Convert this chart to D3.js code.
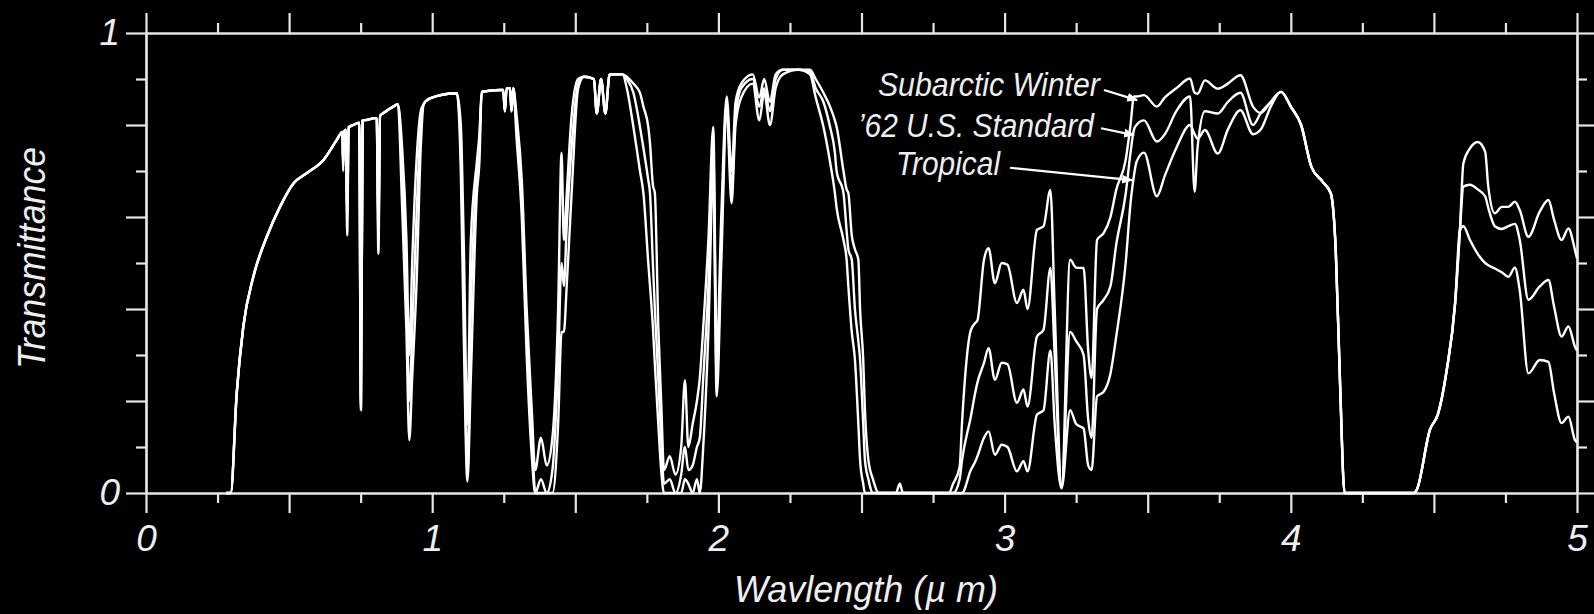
<!DOCTYPE html>
<html>
<head>
<meta charset="utf-8">
<script src="https://cdn.jsdelivr.net/npm/d3@7/dist/d3.min.js"></script>
<style>
  html, body { margin: 0; padding: 0; background: #000; }
  svg { display: block; }
</style>
</head>
<body>
<svg id="chart" width="1594" height="614"></svg>
<script>
// ---------------- DATA ----------------
const wavelength = [
  0.28, 0.296, 0.317, 0.34, 0.375, 0.422, 0.468, 0.515, 0.561, 0.62, 0.666, 0.686, 0.689, 0.692, 0.698, 0.703, 0.708, 0.724, 0.745, 0.751,
  0.757, 0.771, 0.80, 0.806, 0.812, 0.818, 0.83, 0.864, 0.88, 0.895, 0.91, 0.92, 0.93, 0.945, 0.96, 0.97, 0.992, 1.086, 1.10, 1.11,
  1.123, 1.135, 1.156, 1.165, 1.173, 1.237, 1.248, 1.254, 1.26, 1.272, 1.277, 1.283, 1.295, 1.313, 1.33, 1.348, 1.36, 1.38, 1.40, 1.42,
  1.44, 1.452, 1.46, 1.47, 1.487, 1.51, 1.53, 1.565, 1.575, 1.59, 1.605, 1.62, 1.665, 1.68, 1.703, 1.726, 1.738, 1.755, 1.761, 1.771,
  1.778, 1.79, 1.80, 1.81, 1.83, 1.85, 1.87, 1.883, 1.895, 1.91, 1.925, 1.935, 1.947, 1.965, 1.982, 1.994, 2.01, 2.029, 2.046, 2.06,
  2.08, 2.12, 2.143, 2.16, 2.18, 2.20, 2.225, 2.28, 2.32, 2.34, 2.367, 2.39, 2.407, 2.413, 2.437, 2.448, 2.454, 2.466, 2.477, 2.489,
  2.495, 2.506, 2.512, 2.524, 2.54, 2.56, 2.62, 2.634, 2.645, 2.805, 2.82, 2.843, 2.851, 2.882, 2.898, 2.905, 2.928, 2.944, 2.966, 2.99,
  3.01, 3.043, 3.066, 3.08, 3.113, 3.136, 3.16, 3.175, 3.199, 3.229, 3.25, 3.276, 3.292, 3.304, 3.323, 3.346, 3.37, 3.39, 3.423, 3.44,
  3.452, 3.461, 3.487, 3.532, 3.56, 3.60, 3.648, 3.664, 3.674, 3.70, 3.745, 3.78, 3.824, 3.868, 3.895, 3.93, 3.966, 4.00, 4.036, 4.072,
  4.111, 4.14, 4.157, 4.172, 4.188, 4.43, 4.44, 4.486, 4.515, 4.545, 4.574, 4.591, 4.603, 4.626, 4.653, 4.679, 4.69, 4.713, 4.737, 4.76,
  4.783, 4.80, 4.83, 4.87, 4.90, 4.92, 4.946, 4.97, 4.993, 5.0
];

const subarcticWinter = [
  0, 0, .217, .362, .47, .557, .622, .673, .695, .724, .767, .785, .72, .785, .79, .62, .795, .80, .805, .19,
  .81, .811, .815, .815, .60, .82, .826, .84, .845, .75, .55, .30, .50, .72, .83, .845, .858, .869, .80, .55,
  .15, .55, .72, .78, .872, .876, .876, .83, .88, .88, .83, .88, .82, .68, .40, .18, .05, .12, .06, .12,
  .40, .74, .55, .65, .82, .90, .905, .90, .825, .90, .825, .91, .91, .905, .89, .87, .84, .796, .76, .67,
  .652, .362, .20, .05, .08, .04, .10, .245, .10, .15, .20, .25, .36, .55, .796, .30, .60, .862, .70, .85,
  .89, .91, .86, .90, .85, .91, .92, .92, .92, .90, .87, .84, .81, .796, .70, .66, .652, .56, .53, .507,
  .40, .29, .18, .072, .03, 0, 0, .02, 0, 0, .02, .057, .15, .354, .37, .375, .507, .532, .456, .50,
  .496, .413, .442, .40, .572, .58, .659, .40, .014, .507, .49, .489, .31, .25, .55, .565, .60, .659, .724, .80,
  .862, .862, .865, .84, .86, .88, .901, .87, .868, .897, .879, .89, .908, .84, .826, .85, .872, .84, .80, .709,
  .677, .651, .528, .24, 0, 0, .007, .137, .173, .268, .412, .572, .717, .749, .763, .742, .666, .608, .622, .622,
  .633, .615, .557, .612, .637, .594, .55, .575, .528, .51
];

const usStandard62 = [
  0, 0, .217, .362, .47, .557, .622, .673, .695, .724, .767, .785, .71, .785, .79, .60, .795, .80, .805, .185,
  .81, .811, .815, .815, .565, .82, .826, .84, .845, .70, .45, .20, .35, .60, .80, .845, .858, .869, .75, .45,
  .05, .40, .70, .76, .872, .876, .876, .83, .88, .88, .83, .88, .80, .65, .36, .145, 0, .03, 0, .05,
  .28, .50, .45, .58, .75, .89, .905, .90, .825, .90, .825, .91, .91, .90, .87, .796, .75, .68, .652, .50,
  .40, .25, .12, .02, .03, 0, .04, .10, .05, .06, .10, .12, .25, .45, .75, .25, .55, .85, .66, .82,
  .88, .90, .84, .88, .83, .90, .92, .92, .915, .88, .85, .796, .74, .70, .652, .57, .53, .507, .40, .33,
  .29, .15, .072, .03, 0, 0, 0, 0, 0, 0, 0, .03, .07, .166, .22, .24, .283, .315, .246, .283,
  .28, .196, .225, .188, .34, .355, .489, .30, .014, .35, .33, .30, .16, .12, .40, .42, .45, .54, .65, .74,
  .79, .80, .81, .764, .78, .83, .862, .655, .75, .83, .825, .85, .87, .80, .826, .85, .872, .84, .80, .709,
  .677, .651, .528, .24, 0, 0, .007, .137, .173, .268, .412, .572, .666, .67, .66, .645, .62, .58, .574, .58,
  .585, .55, .42, .449, .463, .405, .34, .362, .318, .31
];

const tropical = [
  0, 0, .217, .362, .47, .557, .622, .673, .695, .724, .767, .785, .70, .785, .79, .56, .795, .80, .805, .18,
  .81, .811, .815, .815, .52, .82, .826, .84, .845, .62, .35, .115, .25, .45, .75, .845, .858, .869, .70, .35,
  .025, .25, .65, .72, .872, .876, .876, .83, .88, .88, .83, .88, .77, .60, .30, .08, 0, 0, 0, 0,
  .15, .35, .35, .45, .65, .88, .905, .90, .825, .90, .825, .91, .91, .88, .796, .70, .652, .50, .45, .362,
  .28, .15, .05, 0, 0, 0, 0, .03, .02, 0, .03, 0, .10, .35, .70, .21, .50, .83, .63, .80,
  .86, .89, .81, .87, .80, .88, .91, .92, .91, .86, .796, .72, .652, .62, .55, .507, .45, .35, .29, .15,
  .072, .02, 0, 0, 0, 0, 0, 0, 0, 0, 0, 0, 0, .05, .069, .08, .12, .134, .083, .105,
  .10, .047, .069, .047, .17, .18, .31, .15, .01, .18, .15, .14, .06, .05, .21, .22, .26, .34, .50, .63,
  .69, .72, .74, .645, .69, .75, .80, .78, .77, .789, .738, .79, .832, .78, .79, .84, .872, .84, .80, .709,
  .677, .651, .528, .24, 0, 0, .007, .137, .173, .268, .412, .572, .58, .55, .52, .50, .495, .488, .48, .47,
  .49, .44, .26, .289, .285, .217, .152, .166, .115, .11
];

const xTickLabels = ["0", "1", "2", "3", "4", "5"];
const yTickLabels = ["0", "1"];

const seriesNames = ["Subarctic Winter", "\u201962 U.S. Standard", "Tropical"];
// label text end point and leader line (start -> arrow tip), in data units (wavelength, transmittance)
const labelEndWavelength = [3.333, 3.312, 2.984];
const labelBaseT = [0.863, 0.774, 0.691];
const leaderStartWavelength = [3.347, 3.337, 3.019];
const leaderStartT = [0.876, 0.793, 0.707];
const leaderTipWavelength = [3.463, 3.452, 3.445];
const leaderTipT = [0.854, 0.778, 0.680];

// ---------------- CHART ----------------
const W = 1594, H = 614;
const svg = d3.select("#chart");
svg.append("rect").attr("width", W).attr("height", H).attr("fill", "#000");

const x = d3.scaleLinear().domain([0, 5]).range([146, 1577]);
const y = d3.scaleLinear().domain([0, 1]).range([493, 33]);

const axisColor = "#e6e6e6";
const fontFam = "'Liberation Sans', Arial, Helvetica, sans-serif";

const xMajor = d3.range(0, 5.001, 0.5);
const xMinor = d3.range(0.25, 5, 0.5);
const yMajor = d3.range(0, 1.001, 0.2).map(v => +v.toFixed(2));
const yMinor = d3.range(0.1, 1, 0.2).map(v => +v.toFixed(2));

function styleAxis(g) {
  g.select(".domain").attr("stroke", axisColor).attr("stroke-width", 2.2);
  g.selectAll(".tick line").attr("stroke", axisColor).attr("stroke-width", 2.2);
  g.selectAll(".tick text")
    .attr("fill", "#eeeeee")
    .style("font-family", fontFam)
    .style("font-style", "italic")
    .style("font-size", "37px");
}

const fmtX = d => (Math.abs(d - Math.round(d)) < 1e-6 ? xTickLabels[Math.round(d)] : "");
const fmtY = d => (d === 0 ? yTickLabels[0] : d === 1 ? yTickLabels[1] : "");

// bottom
svg.append("g").attr("transform", `translate(0,${y(0)})`)
  .call(d3.axisBottom(x).tickValues(xMajor).tickSize(20).tickSizeOuter(0).tickPadding(12).tickFormat(fmtX))
  .call(styleAxis);
svg.append("g").attr("transform", `translate(0,${y(0)})`)
  .call(d3.axisBottom(x).tickValues(xMinor).tickSize(10).tickSizeOuter(0).tickFormat(""))
  .call(styleAxis);
// top
svg.append("g").attr("transform", `translate(0,${y(1)})`)
  .call(d3.axisTop(x).tickValues(xMajor).tickSize(20).tickSizeOuter(0).tickFormat(""))
  .call(styleAxis);
svg.append("g").attr("transform", `translate(0,${y(1)})`)
  .call(d3.axisTop(x).tickValues(xMinor).tickSize(10).tickSizeOuter(0).tickFormat(""))
  .call(styleAxis);
// left
svg.append("g").attr("transform", `translate(${x(0)},0)`)
  .call(d3.axisLeft(y).tickValues(yMajor).tickSize(20).tickSizeOuter(0).tickPadding(6).tickFormat(fmtY))
  .call(styleAxis);
svg.append("g").attr("transform", `translate(${x(0)},0)`)
  .call(d3.axisLeft(y).tickValues(yMinor).tickSize(10).tickSizeOuter(0).tickFormat(""))
  .call(styleAxis);
// right
svg.append("g").attr("transform", `translate(${x(5)},0)`)
  .call(d3.axisRight(y).tickValues(yMajor).tickSize(20).tickSizeOuter(0).tickFormat(""))
  .call(styleAxis);
svg.append("g").attr("transform", `translate(${x(5)},0)`)
  .call(d3.axisRight(y).tickValues(yMinor).tickSize(10).tickSizeOuter(0).tickFormat(""))
  .call(styleAxis);

// curves
const line = d3.line()
  .x((d, i) => x(wavelength[i]))
  .y(d => y(d))
  .curve(d3.curveMonotoneX);

[subarcticWinter, usStandard62, tropical].forEach(s => {
  svg.append("path")
    .datum(s)
    .attr("d", line)
    .attr("fill", "none")
    .attr("stroke", "#ffffff")
    .attr("stroke-width", 2.4)
    .attr("stroke-linejoin", "round");
});

// axis titles
svg.append("text")
  .attr("x", 866).attr("y", 602)
  .attr("text-anchor", "middle")
  .attr("fill", "#eeeeee")
  .style("font-family", fontFam).style("font-style", "italic").style("font-size", "36px")
  .attr("textLength", 264).attr("lengthAdjust", "spacingAndGlyphs")
  .text("Wavlength (\u00b5 m)");

svg.append("text")
  .attr("transform", "translate(45,258) rotate(-90)")
  .attr("text-anchor", "middle")
  .attr("fill", "#eeeeee")
  .style("font-family", fontFam).style("font-style", "italic").style("font-size", "39px")
  .attr("textLength", 222).attr("lengthAdjust", "spacingAndGlyphs")
  .text("Transmittance");

// annotations
const defs = svg.append("defs");
defs.append("marker")
  .attr("id", "arrow")
  .attr("viewBox", "0 0 10 10")
  .attr("refX", 9).attr("refY", 5)
  .attr("markerWidth", 5).attr("markerHeight", 5)
  .attr("orient", "auto")
  .append("path").attr("d", "M0,1 L10,5 L0,9 Z").attr("fill", "#ffffff");

const labelWidths = [222, 236, 104];
seriesNames.forEach((name, i) => {
  svg.append("text")
    .attr("x", x(labelEndWavelength[i]))
    .attr("y", y(labelBaseT[i]))
    .attr("text-anchor", "end")
    .attr("fill", "#eeeeee")
    .style("font-family", fontFam).style("font-style", "italic").style("font-size", "33px")
    .attr("textLength", labelWidths[i]).attr("lengthAdjust", "spacingAndGlyphs")
    .text(name);
  svg.append("line")
    .attr("x1", x(leaderStartWavelength[i])).attr("y1", y(leaderStartT[i]))
    .attr("x2", x(leaderTipWavelength[i])).attr("y2", y(leaderTipT[i]))
    .attr("stroke", "#ffffff").attr("stroke-width", 2.2)
    .attr("marker-end", "url(#arrow)");
});
</script>
</body>
</html>
